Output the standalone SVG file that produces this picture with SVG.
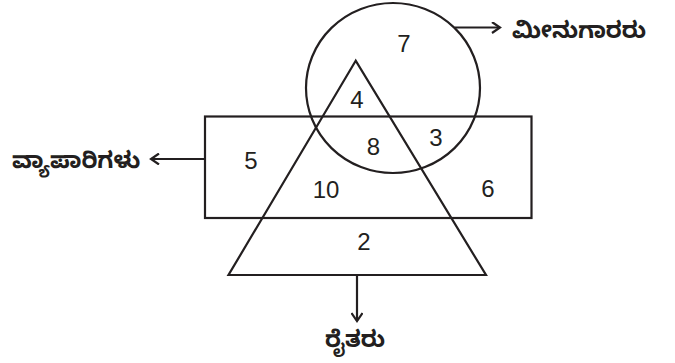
<svg xmlns="http://www.w3.org/2000/svg" width="675" height="363" viewBox="0 0 675 363">
<style>
.s{fill:none;stroke:#231f20;stroke-width:2.2}
.n{font-family:"Liberation Sans",Arial,sans-serif;font-size:24px;fill:#231f20;text-anchor:middle}
.k{font-family:"Noto Sans Kannada","Noto Sans","DejaVu Sans",sans-serif;font-size:23px;font-weight:bold;fill:#231f20}
</style>
<defs>
<marker id="ah" markerWidth="12" markerHeight="12" refX="10" refY="6" orient="auto" markerUnits="userSpaceOnUse">
<path d="M2,0.5 L10,6 L2,11.5" fill="none" stroke="#231f20" stroke-width="2.2"/>
</marker>
</defs>
<rect width="675" height="363" fill="#fff"/>
<g id="traders"><rect class="s" x="205" y="116.5" width="326.5" height="101.5"/></g>
<g id="fishermen"><ellipse class="s" cx="393" cy="88" rx="87" ry="85"/></g>
<g id="farmers"><polygon class="s" points="355.7,60.7 228.5,275 486,275"/></g>
<g id="numbers">
<text class="n" x="404" y="52">7</text>
<text class="n" x="357" y="108">4</text>
<text class="n" x="373.5" y="155">8</text>
<text class="n" x="436" y="145.5">3</text>
<text class="n" x="251" y="169">5</text>
<text class="n" x="326" y="198">10</text>
<text class="n" x="488" y="197">6</text>
<text class="n" x="364" y="250">2</text>
</g>
<g id="connectors">
<line class="s" x1="455" y1="27.5" x2="500" y2="27.5" marker-end="url(#ah)"/>
<line class="s" x1="205" y1="159" x2="151" y2="159" marker-end="url(#ah)"/>
<line class="s" x1="357" y1="275" x2="357" y2="321" marker-end="url(#ah)"/>
</g>
<g id="labels">
<text class="k" x="512" y="38">ಮೀನುಗಾರರು</text>
<text class="k" x="12" y="168">ವ್ಯಾಪಾರಿಗಳು</text>
<text class="k" x="355" y="347" text-anchor="middle">ರೈತರು</text>
</g>
</svg>
